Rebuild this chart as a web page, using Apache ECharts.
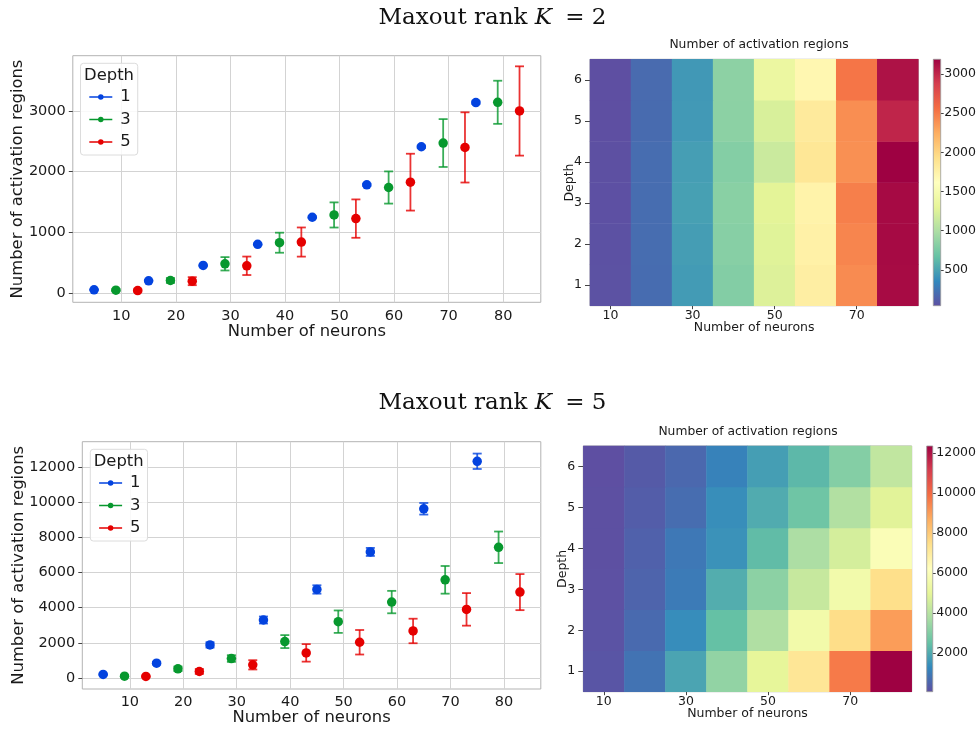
<!DOCTYPE html>
<html>
<head>
<meta charset="utf-8">
<script src="https://cdn.jsdelivr.net/npm/echarts@6.0.0/dist/echarts.min.js"></script>
<style>
html, body { margin: 0; padding: 0; background: #fff; }
#main { width: 979px; height: 730px; }
</style>
</head>
<body>
<div id="main"></div>
<script>
// ---- data ----
var xDepth1 = [5, 15, 25, 35, 45, 55, 65, 75];
var xDepth3 = [9, 19, 29, 39, 49, 59, 69, 79];
var xDepth5 = [13, 23, 33, 43, 53, 63, 73, 83];

// maxout rank K = 2 (mean, std)
var k2Mean1 = [56, 204, 457, 804, 1250, 1784, 2411, 3138];
var k2Err1 = [5, 8, 10, 12, 15, 18, 20, 22];
var k2Mean3 = [50, 209, 484, 831, 1288, 1740, 2472, 3143];
var k2Err3 = [15, 40, 110, 165, 207, 265, 394, 355];
var k2Mean5 = [44, 198, 451, 842, 1228, 1828, 2400, 3000];
var k2Err5 = [20, 66, 152, 240, 316, 468, 578, 735];

// maxout rank K = 5 (mean, std)
var k5Mean1 = [190, 834, 1877, 3299, 5043, 7186, 9650, 12362];
var k5Err1 = [40, 80, 150, 200, 240, 230, 330, 440];
var k5Mean3 = [95, 512, 1100, 2067, 3204, 4323, 5593, 7451];
var k5Err3 = [40, 130, 190, 370, 640, 640, 790, 900];
var k5Mean5 = [76, 360, 740, 1422, 2029, 2673, 3906, 4892];
var k5Err5 = [40, 140, 265, 500, 700, 700, 930, 1030];

// heatmaps: one row per depth (1..6), one value per width
var neurons = ['10', '20', '30', '40', '50', '60', '70', '80'];
var depths = ['1', '2', '3', '4', '5', '6'];
var heatK2 = [
  [56, 204, 457, 804, 1250, 1784, 2411, 3138],
  [53, 206, 470, 820, 1270, 1760, 2440, 3140],
  [50, 209, 484, 831, 1288, 1740, 2472, 3143],
  [47, 205, 475, 810, 1150, 1860, 2390, 3187],
  [44, 198, 451, 842, 1228, 1828, 2400, 3000],
  [42, 195, 445, 850, 1370, 1700, 2520, 3100]
];
var heatK5 = [
  [190, 834, 1877, 3299, 5043, 7186, 9650, 12362],
  [140, 650, 1400, 2500, 3850, 5550, 7500, 9000],
  [95, 512, 1000, 2067, 3204, 4323, 5593, 7451],
  [80, 450, 950, 1500, 2400, 3800, 4600, 5950],
  [76, 360, 700, 1422, 2029, 2673, 3906, 4892],
  [60, 300, 600, 1150, 1750, 2300, 3050, 4200]
];

// tick labels
var scatterXTicks = [10, 20, 30, 40, 50, 60, 70, 80];
var k2YTicks = [0, 1000, 2000, 3000];
var k5YTicks = [0, 2000, 4000, 6000, 8000, 10000, 12000];
var k2BarTicks = [500, 1000, 1500, 2000, 2500, 3000];
var k5BarTicks = [2000, 4000, 6000, 8000, 10000, 12000];

var depthNames = ['1', '3', '5'];
var depthColors = ['#0343df', '#07982e', '#e50000'];
// Spectral_r
var spectral = ['#5e4fa2', '#3288bd', '#66c2a5', '#abdda4', '#e6f598', '#ffffbf',
  '#fee08b', '#fdae61', '#f46d43', '#d53e4f', '#9e0142'];

var FONT = 'DejaVu Sans';
var TXT = '#1a1a1a';

function heatData(rows) {
  var out = [];
  for (var d = 0; d < rows.length; d++) {
    for (var c = 0; c < rows[d].length; c++) {
      out.push([c, d, rows[d][c]]);
    }
  }
  return out;
}
function flat(rows) {
  return [].concat.apply([], rows);
}
function plain(v) {
  return String(v);
}

function renderErrorBar(params, api) {
  var x = api.value(0);
  var hi = api.coord([x, api.value(2)]);
  var lo = api.coord([x, api.value(1)]);
  var half = 4.5;
  var style = { stroke: api.visual('color'), lineWidth: 1.8, opacity: 0.8 };
  return {
    type: 'group',
    children: [
      { type: 'line', shape: { x1: lo[0], y1: lo[1], x2: hi[0], y2: hi[1] }, style: style },
      { type: 'line', shape: { x1: hi[0] - half, y1: hi[1], x2: hi[0] + half, y2: hi[1] }, style: style },
      { type: 'line', shape: { x1: lo[0] - half, y1: lo[1], x2: lo[0] + half, y2: lo[1] }, style: style }
    ]
  };
}

function renderColorBar(params, api) {
  var top = api.coord([0, api.value(2)]);
  var bot = api.coord([0, api.value(1)]);
  var cs = params.coordSys;
  var stops = spectral.map(function (c, i) {
    return { offset: i / (spectral.length - 1), color: c };
  });
  return {
    type: 'rect',
    shape: { x: cs.x, y: top[1], width: cs.width, height: bot[1] - top[1] },
    style: {
      fill: new echarts.graphic.LinearGradient(0, 1, 0, 0, stops),
      stroke: '#999',
      lineWidth: 0.8
    }
  };
}

var series = [];
var heatIndex = [];

function addScatterPanel(axisIdx, means, errs) {
  var xs = [xDepth1, xDepth3, xDepth5];
  for (var k = 0; k < 3; k++) {
    var bars = [], pts = [];
    for (var i = 0; i < xs[k].length; i++) {
      bars.push([xs[k][i], means[k][i] - errs[k][i], means[k][i] + errs[k][i]]);
      pts.push([xs[k][i], means[k][i]]);
    }
    series.push({
      type: 'custom',
      name: depthNames[k] + ' err',
      xAxisIndex: axisIdx, yAxisIndex: axisIdx,
      renderItem: renderErrorBar,
      encode: { x: 0, y: [1, 2] },
      itemStyle: { color: depthColors[k] },
      data: bars,
      z: 3
    });
    series.push({
      type: 'scatter',
      name: depthNames[k],
      xAxisIndex: axisIdx, yAxisIndex: axisIdx,
      symbol: 'circle',
      symbolSize: 9.5,
      itemStyle: { color: depthColors[k], opacity: 1 },
      data: pts,
      z: 4
    });
  }
}

function addHeatPanel(axisIdx, rows) {
  heatIndex.push(series.length);
  series.push({
    type: 'heatmap',
    xAxisIndex: axisIdx, yAxisIndex: axisIdx,
    data: heatData(rows),
    itemStyle: { borderWidth: 0 },
    emphasis: { disabled: true }
  });
}

function addColorBar(axisIdx, rows) {
  var vals = flat(rows);
  series.push({
    type: 'custom',
    xAxisIndex: axisIdx, yAxisIndex: axisIdx,
    renderItem: renderColorBar,
    encode: { x: 0, y: [1, 2] },
    data: [[0, Math.min.apply(null, vals), Math.max.apply(null, vals)]]
  });
}

addScatterPanel(0, [k2Mean1, k2Mean3, k2Mean5], [k2Err1, k2Err3, k2Err5]);
addHeatPanel(1, heatK2);
addColorBar(2, heatK2);
addScatterPanel(3, [k5Mean1, k5Mean3, k5Mean5], [k5Err1, k5Err3, k5Err5]);
addHeatPanel(4, heatK5);
addColorBar(5, heatK5);

function scatterX(grid, nameGap) {
  return {
    type: 'value', gridIndex: grid, min: 1.1, max: 86.9,
    axisLine: { show: false },
    axisTick: { show: false, customValues: scatterXTicks },
    axisLabel: { customValues: scatterXTicks, formatter: plain, fontFamily: FONT, fontSize: 14.5, color: TXT, margin: 6 },
    splitLine: { show: true, lineStyle: { color: '#d3d3d3', width: 1 } },
    name: 'Number of neurons', nameLocation: 'middle', nameGap: nameGap, nameMoveOverlap: false,
    nameTextStyle: { fontFamily: FONT, fontSize: 16.4, color: TXT }
  };
}
function scatterY(grid, min, max, ticks, nameGap) {
  return {
    type: 'value', gridIndex: grid, min: min, max: max,
    axisLine: { show: false },
    axisTick: { show: true, length: 4, customValues: ticks, lineStyle: { color: '#444', width: 1 } },
    axisLabel: { customValues: ticks, formatter: plain, fontFamily: FONT, fontSize: 14.5, color: TXT, margin: 7 },
    splitLine: { show: true, lineStyle: { color: '#d3d3d3', width: 1 } },
    name: 'Number of activation regions', nameLocation: 'middle', nameGap: nameGap, nameMoveOverlap: false,
    nameTextStyle: { fontFamily: FONT, fontSize: 16.4, color: TXT }
  };
}
function heatX(grid, nameGap) {
  return {
    type: 'category', gridIndex: grid, data: neurons,
    axisLine: { show: false },
    axisTick: { show: true, alignWithLabel: true, interval: 1, length: 3.5, lineStyle: { color: '#444' } },
    axisLabel: { interval: 1, fontFamily: FONT, fontSize: 12.5, color: TXT, margin: 4 },
    splitLine: { show: false },
    name: 'Number of neurons', nameLocation: 'middle', nameGap: nameGap, nameMoveOverlap: false,
    nameTextStyle: { fontFamily: FONT, fontSize: 12.5, color: TXT }
  };
}
function heatY(grid) {
  return {
    type: 'category', gridIndex: grid, data: depths,
    axisLine: { show: false },
    axisTick: { show: true, alignWithLabel: true, length: 5, lineStyle: { color: '#444' } },
    axisLabel: { fontFamily: FONT, fontSize: 12.5, color: TXT, margin: 8 },
    splitLine: { show: false },
    name: 'Depth', nameLocation: 'middle', nameGap: 14, nameMoveOverlap: false,
    nameTextStyle: { fontFamily: FONT, fontSize: 12.5, color: TXT }
  };
}
function barX(grid) {
  return { type: 'category', gridIndex: grid, data: [''], show: false };
}
function barY(grid, rows, ticks) {
  var vals = flat(rows);
  return {
    type: 'value', gridIndex: grid, position: 'right',
    min: Math.min.apply(null, vals), max: Math.max.apply(null, vals),
    axisLine: { show: false },
    axisTick: { show: true, length: 3, customValues: ticks, lineStyle: { color: '#444' } },
    axisLabel: { customValues: ticks, formatter: plain, fontFamily: FONT, fontSize: 12.5, color: TXT, margin: 3.5 },
    splitLine: { show: false }
  };
}

var legendIcon = 'path://M0,8.5 L46,8.5 L46,11.5 L0,11.5 Z M17.5,10 A5.5,5.5 0 1,1 28.5,10 A5.5,5.5 0 1,1 17.5,10 Z';
function legendAt(left, top) {
  return {
    data: depthNames,
    orient: 'vertical',
    left: left, top: top,
    icon: legendIcon,
    itemWidth: 23, itemHeight: 5.5, itemGap: 6.5,
    padding: [25.7, 7, 5, 8.8],
    borderColor: '#dcdcdc', borderWidth: 1, borderRadius: 3,
    backgroundColor: 'rgba(255,255,255,0.85)',
    selectedMode: false,
    textStyle: { fontFamily: FONT, fontSize: 16.4, color: TXT, lineHeight: 16, padding: [0, 0, 0, 3] }
  };
}

function mainTitle(k, top) {
  return {
    text: '{a|Maxout rank }{k|K}{a| = ' + k + '}',
    left: 492.5, top: top, textAlign: 'center', padding: 0,
    textStyle: {
      fontFamily: 'DejaVu Serif', fontSize: 23, fontWeight: 'normal', color: '#111',
      rich: {
        a: { fontFamily: 'DejaVu Serif', fontSize: 23, color: '#111' },
        k: { fontFamily: 'DejaVu Serif', fontStyle: 'italic', fontSize: 23, color: '#111', padding: [0, 6, 0, 0] }
      }
    }
  };
}
function smallTitle(text, cx, top, size) {
  return {
    text: text, left: cx, top: top, textAlign: 'center', padding: 0,
    textStyle: { fontFamily: FONT, fontSize: size, fontWeight: 'normal', color: TXT }
  };
}

var option = {
  animation: false,
  backgroundColor: '#fff',
  title: [
    mainTitle(2, 7),
    mainTitle(5, 392),
    smallTitle('Number of activation regions', 759, 39, 12.3),
    smallTitle('Number of activation regions', 748, 426, 12.3),
    smallTitle('Depth', 109, 68, 16.4),
    smallTitle('Depth', 118.7, 453.7, 16.4)
  ],
  legend: [legendAt(80.5, 63.3), legendAt(90.3, 449.3)],
  grid: [
    { left: 72.8, top: 55.7, width: 468, height: 246.6, show: true, borderColor: '#b3b3b3', borderWidth: 1 },
    { left: 590, top: 59.3, width: 328.3, height: 246.4, show: true, borderColor: '#aaa', borderWidth: 1 },
    { left: 933.3, top: 59.3, width: 11.7, height: 246.4 },
    { left: 82.3, top: 441.7, width: 458.5, height: 247.3, show: true, borderColor: '#b3b3b3', borderWidth: 1 },
    { left: 583.3, top: 446, width: 328.4, height: 245.7, show: true, borderColor: '#aaa', borderWidth: 1 },
    { left: 926.7, top: 446, width: 11.6, height: 245.7 }
  ],
  xAxis: [
    scatterX(0, 21), heatX(1, 16), barX(2),
    scatterX(3, 21), heatX(4, 15.5), barX(5)
  ],
  yAxis: [
    scatterY(0, -150, 3910, k2YTicks, 47), heatY(1), barY(2, heatK2, k2BarTicks),
    scatterY(3, -640, 13480, k5YTicks, 56), heatY(4), barY(5, heatK5, k5BarTicks)
  ],
  visualMap: [
    {
      type: 'continuous', show: false, seriesIndex: heatIndex[0], dimension: 2,
      min: Math.min.apply(null, flat(heatK2)), max: Math.max.apply(null, flat(heatK2)),
      inRange: { color: spectral }
    },
    {
      type: 'continuous', show: false, seriesIndex: heatIndex[1], dimension: 2,
      min: Math.min.apply(null, flat(heatK5)), max: Math.max.apply(null, flat(heatK5)),
      inRange: { color: spectral }
    }
  ],
  series: series
};

var chart = echarts.init(document.getElementById('main'), null, { renderer: 'canvas' });
chart.setOption(option);
</script>
</body>
</html>
